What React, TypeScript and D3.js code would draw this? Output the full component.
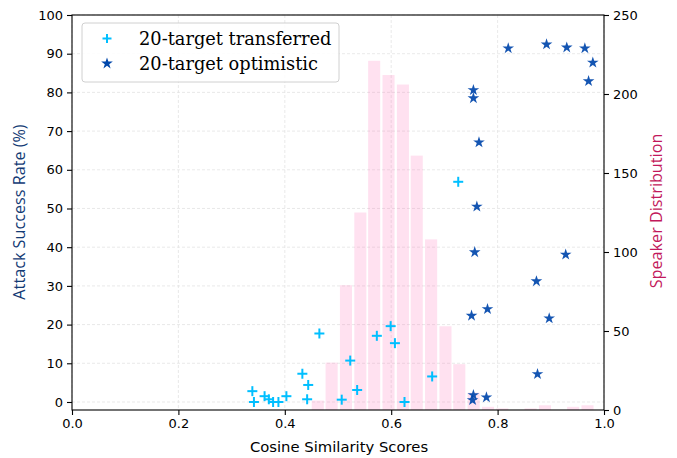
import { useEffect, useRef } from 'react'
import * as d3 from 'd3'

// histogram of speaker similarity (right axis)
const binCenters = [0.462, 0.488, 0.515, 0.542, 0.568, 0.595, 0.622, 0.648, 0.675, 0.702, 0.728, 0.755, 0.782, 0.809, 0.835, 0.862, 0.889, 0.915, 0.942, 0.969]
const binCounts = [6, 30, 79, 125, 221, 212, 206, 161, 108, 53, 29, 11, 2, 1, 0, 1, 3, 0, 2, 3]
const binWidth = 0.0267

// 20-target transferred
const transX = [0.339, 0.342, 0.362, 0.370, 0.378, 0.388, 0.403, 0.433, 0.444, 0.442, 0.465, 0.523, 0.507, 0.536, 0.573, 0.599, 0.607, 0.625, 0.677, 0.726]
const transY = [2.8, 0, 1.5, 0.7, 0, 0, 1.5, 7.3, 4.4, 0.7, 17.7, 10.7, 0.6, 3.1, 17.1, 19.6, 15.2, 0, 6.6, 56.9]

// 20-target optimistic
const optX = [0.820, 0.892, 0.930, 0.964, 0.979, 0.971, 0.7545, 0.7545, 0.765, 0.761, 0.757, 0.928, 0.873, 0.781, 0.751, 0.897, 0.875, 0.779, 0.7545, 0.753]
const optY = [91.4, 92.4, 91.6, 91.4, 87.7, 82.9, 80.6, 78.5, 67.1, 50.5, 38.7, 38.1, 31.2, 24.0, 22.3, 21.6, 7.2, 1.2, 1.8, 0.5]

const xTicks = [0, 0.2, 0.4, 0.6, 0.8, 1.0]
const yLeftTicks = [0, 10, 20, 30, 40, 50, 60, 70, 80, 90, 100]
const yRightTicks = [0, 50, 100, 150, 200, 250]

const W = 677
const H = 458
const margin = { top: 15, right: 73, bottom: 48, left: 72 }

export default function App() {
  const svgRef = useRef<SVGSVGElement>(null)

  useEffect(() => {
    if (!svgRef.current) return
    const svg = d3.select(svgRef.current)
    svg.selectAll('*').remove()

    const innerW = W - margin.left - margin.right
    const innerH = H - margin.top - margin.bottom

    const x = d3.scaleLinear().domain([0, 1]).range([0, innerW])
    const yL = d3.scaleLinear().domain([-2.07, 100]).range([innerH, 0])
    const yR = d3.scaleLinear().domain([0, 250]).range([innerH, 0])

    const g = svg.append('g').attr('transform', `translate(${margin.left},${margin.top})`)

    // grid
    g.selectAll('.gx').data(xTicks).enter().append('line')
      .attr('x1', d => x(d)).attr('x2', d => x(d))
      .attr('y1', 0).attr('y2', innerH)
      .attr('stroke', '#e3e3e3').attr('stroke-width', 0.8).attr('stroke-dasharray', '3,2')
    g.selectAll('.gy').data(yLeftTicks).enter().append('line')
      .attr('x1', 0).attr('x2', innerW)
      .attr('y1', d => yL(d)).attr('y2', d => yL(d))
      .attr('stroke', '#e3e3e3').attr('stroke-width', 0.8).attr('stroke-dasharray', '3,2')

    // histogram bars
    const bw = x(binWidth * 0.85) - x(0)
    g.selectAll('.bar').data(binCenters).enter().append('rect')
      .attr('x', d => x(d) - bw / 2)
      .attr('y', (_, i) => yR(binCounts[i]))
      .attr('width', bw)
      .attr('height', (_, i) => innerH - yR(binCounts[i]))
      .attr('fill', '#ff69b4').attr('opacity', 0.2)

    // transferred points (+)
    const tp = g.selectAll('.tp').data(transX).enter().append('g')
      .attr('transform', (d, i) => `translate(${x(d)},${yL(transY[i])})`)
    tp.append('line').attr('x1', -5).attr('x2', 5).attr('y1', 0).attr('y2', 0)
      .attr('stroke', '#00bfff').attr('stroke-width', 2)
    tp.append('line').attr('x1', 0).attr('x2', 0).attr('y1', -5).attr('y2', 5)
      .attr('stroke', '#00bfff').attr('stroke-width', 2)

    // optimistic points (stars)
    const star = d3.symbol().type(d3.symbolStar).size(42)
    g.selectAll('.op').data(optX).enter().append('path')
      .attr('d', star)
      .attr('transform', (d, i) => `translate(${x(d)},${yL(optY[i])})`)
      .attr('fill', '#0047ab').attr('opacity', 0.92)

    // frame
    g.append('rect').attr('x', 0).attr('y', 0).attr('width', innerW).attr('height', innerH)
      .attr('fill', 'none').attr('stroke', '#000').attr('stroke-width', 1.1)

    const font = 'DejaVu Sans, sans-serif'

    const xAxis = g.append('g').attr('transform', `translate(0,${innerH})`)
      .call(d3.axisBottom(x).tickValues(xTicks).tickSize(5).tickPadding(4).tickFormat(d => (d as number).toFixed(1)))
    const yAxisL = g.append('g')
      .call(d3.axisLeft(yL).tickValues(yLeftTicks).tickSize(5).tickPadding(4).tickFormat(d3.format('d')))
    const yAxisR = g.append('g').attr('transform', `translate(${innerW},0)`)
      .call(d3.axisRight(yR).tickValues(yRightTicks).tickSize(5).tickPadding(4).tickFormat(d3.format('d')))
    ;[xAxis, yAxisL, yAxisR].forEach(a => {
      a.select('.domain').remove()
      a.selectAll('line').attr('stroke', '#000').attr('stroke-width', 1.1)
      a.selectAll('text').attr('fill', '#000').style('font-size', '13px').style('font-family', font)
    })

    // axis labels
    svg.append('text')
      .attr('x', margin.left + innerW / 2 + 1).attr('y', 452)
      .attr('text-anchor', 'middle').style('font-family', font).style('font-size', '14.8px')
      .attr('fill', '#000').text('Cosine Similarity Scores')
    svg.append('text')
      .attr('transform', `translate(24.5,212) rotate(-90)`)
      .attr('text-anchor', 'middle').style('font-family', '"Open Sans", sans-serif').style('font-size', '16.2px')
      .attr('fill', '#123a74').text('Attack Success Rate (%)')
    svg.append('text')
      .attr('transform', `translate(661.5,211) rotate(-90)`)
      .attr('text-anchor', 'middle').style('font-family', '"Open Sans", sans-serif').style('font-size', '16.2px')
      .attr('fill', '#c2185b').text('Speaker Distribution')

    // legend
    const lg = svg.append('g').attr('transform', 'translate(82,23)')
    lg.append('rect').attr('x', 0).attr('y', 0).attr('width', 257).attr('height', 59).attr('rx', 3)
      .attr('fill', 'rgba(255,255,255,0.85)').attr('stroke', '#d0d0d0').attr('stroke-width', 1)
    const lp = lg.append('g').attr('transform', 'translate(25,15.5)')
    lp.append('line').attr('x1', -4.5).attr('x2', 4.5).attr('y1', 0).attr('y2', 0).attr('stroke', '#00bfff').attr('stroke-width', 2)
    lp.append('line').attr('x1', 0).attr('x2', 0).attr('y1', -4.5).attr('y2', 4.5).attr('stroke', '#00bfff').attr('stroke-width', 2)
    lg.append('path').attr('d', star).attr('transform', 'translate(25,40.5)').attr('fill', '#0047ab')
    const serif = 'DejaVu Serif, serif'
    lg.append('text').attr('x', 57).attr('y', 21.5).style('font-family', serif).style('font-size', '17.8px')
      .attr('fill', '#000').text('20-target transferred')
    lg.append('text').attr('x', 57).attr('y', 46.5).style('font-family', serif).style('font-size', '17.8px')
      .attr('fill', '#000').text('20-target optimistic')
  }, [])

  return (
    <svg ref={svgRef} width={W} height={H}
      style={{ position: 'absolute', left: 0, top: 0, background: '#fff' }} />
  )
}
